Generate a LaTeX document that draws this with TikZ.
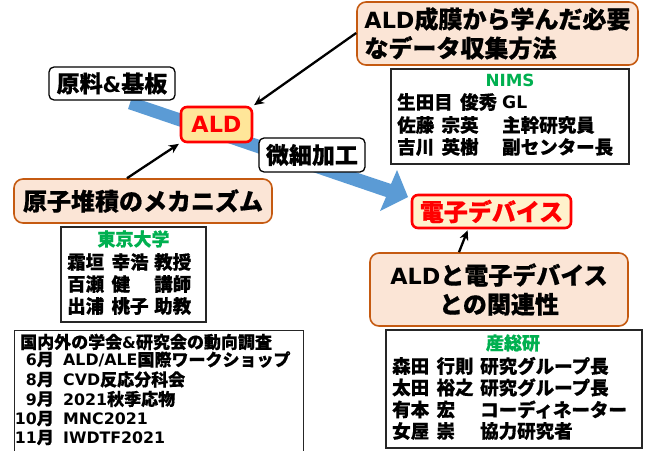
\documentclass[tikz,border=0pt]{standalone}
\usepackage{fontspec}
\setmainfont{Noto Sans CJK JP}[BoldFeatures={FakeBold=0.6}]
\newfontfamily\latf{DejaVu Sans}[Scale=0.93]
\newcommand{\La}[1]{{\latf #1}}
\usetikzlibrary{arrows.meta}
\definecolor{flowblue}{HTML}{5B9BD5}
\definecolor{boxorange}{HTML}{C55A11}
\definecolor{peach}{HTML}{FBE5D6}
\definecolor{aldyellow}{HTML}{FFE699}
\definecolor{cream}{HTML}{FFF2CC}
\definecolor{grn}{HTML}{00B050}
\definecolor{brd}{HTML}{262626}
\newcommand{\fsz}[2]{\fontsize{#1}{#2}\selectfont}
\begin{document}
\begin{tikzpicture}[x=1pt,y=-1pt,
  rbox/.style={draw=black, fill=white, rounded corners=5pt, line width=1.3pt, inner sep=0pt, align=center, font=\bfseries\fsz{23}{28}},
  redbox/.style={draw=red, rounded corners=6pt, line width=2.6pt, inner sep=0pt, text=red, font=\bfseries\fsz{24}{28}},
  obox/.style={draw=boxorange, fill=peach, rounded corners=9pt, line width=1.6pt, inner sep=0pt, font=\bfseries\fsz{24}{29}},
  sbox/.style={draw=brd, fill=white, line width=1.3pt, inner sep=0pt},
  ttl/.style={inner sep=0pt, text=grn, font=\bfseries\fsz{18}{22}},
  ln/.style={inner sep=0pt, anchor=west, font=\bfseries\fsz{18.5}{22}},
  lk/.style={inner sep=0pt, anchor=west, font=\bfseries\fsz{17}{20}},
  lm/.style={inner sep=0pt, anchor=east, font=\bfseries\fsz{17}{20}},
  conn/.style={-{Stealth[length=10pt,width=9pt]}, line width=2.3pt, shorten >=1pt}]
\useasboundingbox (0,0) rectangle (645,450);
\clip (0,0) rectangle (645,450);
% big blue flow arrow
\fill[flowblue] (132,97) -- (391,184) -- (397,170) -- (408,197) -- (380,211) -- (386,197) -- (128,109) -- cycle;
% boxes
\node[rbox, minimum width=126pt, minimum height=33pt] (genryo) at (112,83.5) {原料\La{\&}基板};
\node[redbox, fill=aldyellow, minimum width=71pt, minimum height=35pt] (ald) at (216.5,124.5) {\La{ALD}};
\node[rbox, minimum width=106pt, minimum height=34pt] (bisai) at (312,155) {微細加工};
\node[obox, minimum width=258pt, minimum height=44pt] (genshi) at (143,201) {原子堆積のメカニズム};
\node[obox, minimum width=281pt, minimum height=63pt, align=left] (learn) at (497.5,33.5) {\La{ALD}成膜から学んだ必要\\なデータ収集方法};
\node[redbox, fill=cream, minimum width=159pt, minimum height=33pt] (denshi) at (491.5,211.5) {電子デバイス};
\node[obox, minimum width=258pt, minimum height=73pt, align=center] (kanren) at (499,289.5) {\La{ALD}と電子デバイス\\との関連性};
% NIMS box
\node[sbox, minimum width=238pt, minimum height=95pt] (nims) at (510,116.5) {};
\node[ttl] (nimst) at (510,80) {\La{NIMS}};
\node[ln] (n1a) at (397,102) {生田目\hspace{0.4em}俊秀};
\node[ln] (n1b) at (502,102) {\La{GL}};
\node[ln] (n2a) at (397,125) {佐藤\hspace{0.4em}宗英};
\node[ln] (n2b) at (502,125) {主幹研究員};
\node[ln] (n3a) at (397,147) {吉川\hspace{0.4em}英樹};
\node[ln] (n3b) at (502,147) {副センター長};
% Todai box
\node[sbox, minimum width=145pt, minimum height=95pt] (todai) at (133.5,274.5) {};
\node[ttl] (todait) at (133.5,239) {東京大学};
\node[ln] (t1a) at (67,262) {霜垣\hspace{0.4em}幸浩};
\node[ln] (t1b) at (154,262) {教授};
\node[ln] (t2a) at (67,284) {百瀬\hspace{0.4em}健};
\node[ln] (t2b) at (154,284) {講師};
\node[ln] (t3a) at (67,306) {出浦\hspace{0.4em}桃子};
\node[ln] (t3b) at (154,306) {助教};
% AIST box
\node[sbox, minimum width=256pt, minimum height=118pt] (sanso) at (514,389) {};
\node[ttl] (sansot) at (513,343) {産総研};
\node[ln] (s1a) at (392,366) {森田\hspace{0.4em}行則};
\node[ln] (s1b) at (480,366) {研究グループ長};
\node[ln] (s2a) at (392,387.5) {太田\hspace{0.4em}裕之};
\node[ln] (s2b) at (480,387.5) {研究グループ長};
\node[ln] (s3a) at (392,409.5) {有本\hspace{0.4em}宏};
\node[ln] (s3b) at (480,409.5) {コーディネーター};
\node[ln] (s4a) at (392,431) {女屋\hspace{0.4em}崇};
\node[ln] (s4b) at (480,431) {協力研究者};
% survey box
\node[sbox, minimum width=289pt, minimum height=130pt, anchor=north west] (survey) at (14,330) {};
\node[lk] (k0) at (20,342) {国内外の学会\La{\&}研究会の動向調査};
\node[lm] (k1m) at (54,359.5) {\La{6}月};
\node[lk] (k1) at (63,359.5) {\La{ALD/ALE}国際ワークショップ};
\node[lm] (k2m) at (54,379.5) {\La{8}月};
\node[lk] (k2) at (63,379.5) {\La{CVD}反応分科会};
\node[lm] (k3m) at (54,399) {\La{9}月};
\node[lk] (k3) at (63,399) {\La{2021}秋季応物};
\node[lm] (k4m) at (54,418.5) {\La{10}月};
\node[lk] (k4) at (63,418.5) {\La{MNC2021}};
\node[lm] (k5m) at (54,437.5) {\La{11}月};
\node[lk] (k5) at (63,437.5) {\La{IWDTF2021}};
% connectors
\draw[conn] (learn.west |- 0,33) -- (ald.north east);
\draw[conn] (genshi.north -| 127,0) -- (ald.south west);
\draw[conn] (kanren.north -| 459,0) -- (denshi.south -| 468,0);
\end{tikzpicture}
\end{document}
